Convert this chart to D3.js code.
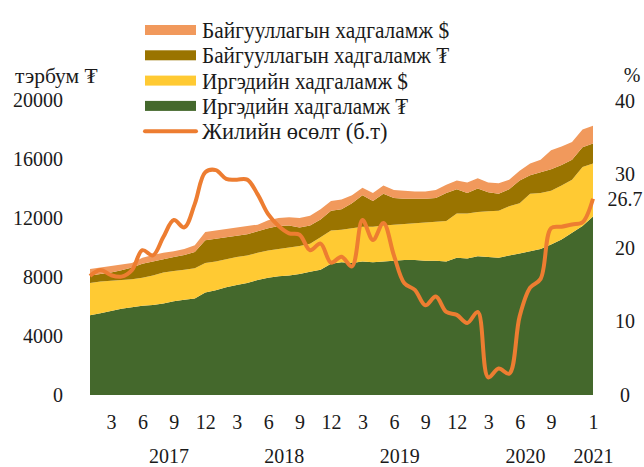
<!DOCTYPE html>
<html>
<head>
<meta charset="utf-8">
<script src="https://cdn.jsdelivr.net/npm/d3@7"></script>
<style>
  body { margin: 0; background: #fff; }
  svg text { font-family: "Liberation Serif", "Times New Roman", Tinos, Times, "DejaVu Serif", "Noto Serif", serif; fill: #1a1a1a; }
</style>
</head>
<body>
<div id="chart"></div>
<script>
// monthly, 2017-01 .. 2021-01
const months = d3.range(49).map(i => new Date(2017, i, 1));

// тэрбум ₮
const citizensMNT = [5400, 5550, 5700, 5850, 5950, 6050, 6100, 6200, 6350, 6450, 6550, 6950,
  7100, 7300, 7450, 7600, 7800, 7950, 8050, 8100, 8200, 8350, 8500, 8900,
  9000, 8950, 9050, 9000, 9050, 9100, 9150, 9150, 9100, 9100, 9050, 9300,
  9250, 9400, 9350, 9300, 9450, 9600, 9750, 9900, 10200, 10550, 11000, 11450, 12100];
const citizensUSD = [2200, 2150, 2050, 1950, 1900, 1900, 2000, 2100, 2050, 2050, 2050, 2000,
  1950, 1900, 1900, 1850, 1850, 1850, 1850, 1900, 1900, 1900, 2200, 2250,
  2200, 2350, 2350, 2400, 2450, 2450, 2450, 2500, 2600, 2650, 2750, 3000,
  3050, 3000, 3100, 3200, 3350, 3400, 3900, 3800, 3650, 3650, 3600, 4000, 3600];
const orgMNT = [500, 500, 550, 650, 800, 950, 950, 900, 950, 1000, 1100, 1550,
  1550, 1500, 1450, 1450, 1450, 1500, 1550, 1500, 1250, 1250, 1200, 1350,
  1400, 1700, 2150, 1750, 2150, 1800, 1700, 1650, 1600, 1600, 1900, 1650,
  1400, 1600, 1300, 1150, 1150, 1550, 1250, 1400, 1450, 1400, 1350, 1350, 1350];
const orgUSD = [450, 450, 450, 400, 300, 400, 450, 450, 400, 400, 450, 550,
  550, 550, 550, 550, 450, 550, 550, 550, 650, 650, 700, 650,
  650, 550, 500, 550, 550, 550, 550, 500, 500, 550, 550, 600,
  700, 700, 650, 700, 650, 650, 800, 850, 1300, 1250, 1200, 1200, 1200];

// %
const growth = [16.2, 17.0, 16.3, 16.1, 17.0, 19.7, 19.0, 21.5, 23.8, 22.8, 26.0, 30.3,
  30.6, 29.4, 29.3, 29.3, 27.3, 24.6, 23.0, 22.0, 21.8, 19.7, 20.6, 18.0,
  18.8, 17.5, 23.8, 21.1, 23.4, 19.0, 15.2, 14.3, 12.2, 13.4, 11.3, 10.9,
  9.8, 11.3, 2.4, 3.6, 2.9, 10.7, 14.6, 15.8, 22.7, 22.9, 23.2, 23.5, 26.7];

const seriesNames = ["Иргэдийн хадгаламж ₮", "Иргэдийн хадгаламж $",
  "Байгууллагын хадгаламж ₮", "Байгууллагын хадгаламж $"];
const lineName = "Жилийн өсөлт (б.т)";
const colors = ["#44682c", "#ffca33", "#9a7400", "#f1995c"];
const lineColor = "#ed7d31";

const leftTicks = [0, 4000, 8000, 12000, 16000, 20000];
const rightTicks = [0, 10, 20, 26.7, 30, 40];
const monthTicks = [2, 5, 8, 11, 14, 17, 20, 23, 26, 29, 32, 35, 38, 41, 44, 48];
const years = ["2017", "2018", "2019", "2020", "2021"];
const yearTicks = [7.5, 18.5, 29.5, 41.5, 48];

const width = 644, height = 467;
const fontStack = '"Liberation Serif", "Times New Roman", Tinos, Times, "DejaVu Serif", "Noto Serif", serif';

const svg = d3.select("#chart").append("svg")
  .attr("width", width).attr("height", height)
  .attr("font-family", fontStack);

const x = d3.scaleLinear().domain([0, months.length - 1]).range([90, 593]);
const y = d3.scaleLinear().domain([0, 20000]).range([395, 100]);
const y2 = d3.scaleLinear().domain([0, 40]).range([395, 101]);

const table = months.map((m, i) => ({
  i: i,
  s0: citizensMNT[i], s1: citizensUSD[i], s2: orgMNT[i], s3: orgUSD[i]
}));
const layers = d3.stack().keys(["s0", "s1", "s2", "s3"])(table);

const area = d3.area()
  .x(d => x(d.data.i))
  .y0(d => y(d[0]))
  .y1(d => y(d[1]));

svg.append("g").selectAll("path")
  .data(layers)
  .join("path")
    .attr("d", area)
    .attr("fill", (d, i) => colors[i]);

const line = d3.line()
  .x((d, i) => x(i))
  .y(d => y2(d))
  .curve(d3.curveCatmullRom.alpha(0.5));

svg.append("path")
  .datum(growth)
  .attr("d", line)
  .attr("fill", "none")
  .attr("stroke", lineColor)
  .attr("stroke-width", 4)
  .attr("stroke-linejoin", "round");

// axes
const fs = 20;
const leftAxis = svg.append("g")
  .attr("transform", "translate(63,0)")
  .call(d3.axisLeft(y).tickValues(leftTicks).tickSize(0).tickPadding(0)
    .tickFormat(d3.format("d")));
leftAxis.select(".domain").remove();

const rightAxis = svg.append("g")
  .attr("transform", "translate(625,0)")
  .call(d3.axisRight(y2).tickValues(rightTicks).tickSize(0).tickPadding(0)
    .tickFormat(d => d === 26.7 ? "26.7" : d3.format("d")(d)));
rightAxis.select(".domain").remove();
rightAxis.selectAll("text").attr("text-anchor", "middle").attr("x", 0);

const monthAxis = svg.append("g")
  .attr("transform", "translate(0,395)")
  .call(d3.axisBottom(x).tickValues(monthTicks).tickSize(0).tickPadding(20)
    .tickFormat(i => months[i].getMonth() + 1));
monthAxis.select(".domain").remove();

const yearAxis = svg.append("g")
  .attr("transform", "translate(0,395)")
  .call(d3.axisBottom(x).tickValues(yearTicks).tickSize(0).tickPadding(54)
    .tickFormat((d, i) => years[i]));
yearAxis.select(".domain").remove();

svg.selectAll("g").attr("font-family", fontStack);
svg.selectAll(".tick text")
  .attr("font-size", fs).attr("fill", "#1a1a1a");

svg.append("text").attr("x", 15).attr("y", 75).attr("dy", "0.35em")
  .attr("font-size", 21.5).text("тэрбум ₮");
svg.append("text").attr("x", 632).attr("y", 75).attr("dy", "0.35em")
  .attr("text-anchor", "middle").attr("font-size", fs).text("%");

// legend
const legendItems = [
  { name: seriesNames[3], color: colors[3] },
  { name: seriesNames[2], color: colors[2] },
  { name: seriesNames[1], color: colors[1] },
  { name: seriesNames[0], color: colors[0] },
  { name: lineName, color: lineColor, line: true }
];
const legend = svg.append("g").attr("transform", "translate(145,30)");
const rows = legend.selectAll("g").data(legendItems).join("g")
  .attr("transform", (d, i) => `translate(0,${i * 25.3})`);
rows.filter(d => !d.line).append("rect")
  .attr("x", 0).attr("y", -5).attr("width", 51).attr("height", 10)
  .attr("fill", d => d.color);
rows.filter(d => d.line).append("line")
  .attr("x1", 0).attr("x2", 51).attr("y1", 0).attr("y2", 0)
  .attr("stroke", d => d.color).attr("stroke-width", 4).attr("stroke-linecap", "round");
rows.append("text")
  .attr("x", 57).attr("dy", "0.35em").attr("font-size", 23)
  .attr("textLength", d => d.name.length * 10.3)
  .attr("lengthAdjust", "spacingAndGlyphs")
  .text(d => d.name);
</script>
</body>
</html>
